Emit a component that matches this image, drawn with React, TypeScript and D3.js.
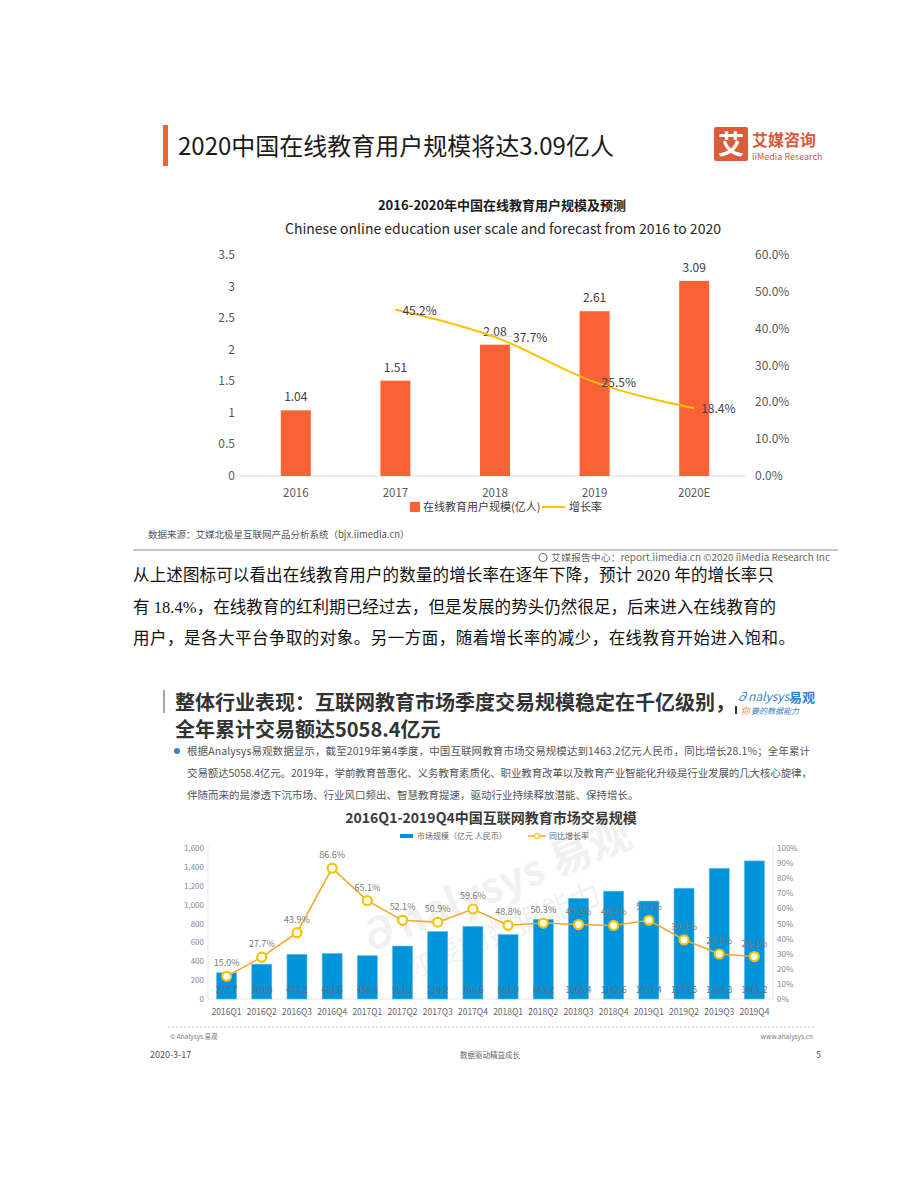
import React from 'react';
import * as d3 from 'd3';

// ---------- Chart 1 data ----------
const years = ['2016', '2017', '2018', '2019', '2020E'];
const users = [1.04, 1.51, 2.08, 2.61, 3.09];
const growth: (number | null)[] = [null, 45.2, 37.7, 25.5, 18.4];
const leftTicks1 = [0, 0.5, 1, 1.5, 2, 2.5, 3, 3.5];
const rightTicks1 = [0, 10, 20, 30, 40, 50, 60];

// ---------- Chart 2 data ----------
const quarters = ['2016Q1', '2016Q2', '2016Q3', '2016Q4', '2017Q1', '2017Q2', '2017Q3', '2017Q4',
  '2018Q1', '2018Q2', '2018Q3', '2018Q4', '2019Q1', '2019Q2', '2019Q3', '2019Q4'];
const market = [277.7, 369.0, 473.2, 481.6, 458.4, 561.1, 714.2, 768.6,
  681.9, 843.2, 1066.4, 1142.6, 1037.4, 1173.5, 1384.3, 1463.2];
const yoy = [15.0, 27.7, 43.9, 86.6, 65.1, 52.1, 50.9, 59.6,
  48.8, 50.3, 49.3, 48.7, 52.1, 39.2, 29.8, 28.1];
const leftTicks2 = [0, 200, 400, 600, 800, 1000, 1200, 1400, 1600];
const rightTicks2 = [0, 10, 20, 30, 40, 50, 60, 70, 80, 90, 100];

const paragraph = [
  '从上述图标可以看出在线教育用户的数量的增长率在逐年下降，预计 2020 年的增长率只',
  '有 18.4%，在线教育的红利期已经过去，但是发展的势头仍然很足，后来进入在线教育的',
  '用户，是各大平台争取的对象。另一方面，随着增长率的减少，在线教育开始进入饱和。',
];
const bullet = [
  '根据Analysys易观数据显示，截至2019年第4季度，中国互联网教育市场交易规模达到1463.2亿元人民币，同比增长28.1%；全年累计',
  '交易额达5058.4亿元。2019年，学前教育普惠化、义务教育素质化、职业教育改革以及教育产业智能化升级是行业发展的几大核心旋律，',
  '伴随而来的是渗透下沉市场、行业风口频出、智慧教育提速，驱动行业持续释放潜能、保持增长。',
];

const SANS = "'Noto Sans CJK SC', 'Noto Sans', sans-serif";
const SERIF = "'Liberation Serif', 'DejaVu Serif', 'Noto Sans CJK SC', serif";

export default function App() {
  // chart 1 scales
  const x1 = d3.scalePoint<string>().domain(years).range([246, 744]).padding(0.5);
  const y1 = d3.scaleLinear().domain([0, 3.5]).range([476, 255]);
  const y1r = d3.scaleLinear().domain([0, 60]).range([476, 255]);
  const barW1 = 30;
  const growthPts = years
    .map((yr, i) => ({ yr, v: growth[i] }))
    .filter((d) => d.v !== null) as { yr: string; v: number }[];
  const line1 = d3.line<{ yr: string; v: number }>()
    .x((d) => x1(d.yr)!)
    .y((d) => y1r(d.v))
    .curve(d3.curveMonotoneX);

  // chart 2 scales
  const x2 = d3.scalePoint<string>().domain(quarters).range([209, 772]).padding(0.5);
  const y2 = d3.scaleLinear().domain([0, 1600]).range([999, 848]);
  const y2r = d3.scaleLinear().domain([0, 100]).range([999, 848]);
  const barW2 = 20;
  const line2 = d3.line<number>()
    .x((_, i) => x2(quarters[i])!)
    .y((d) => y2r(d));
  const fmt = d3.format(',');

  return (
    <svg width={920} height={1191} style={{ position: 'absolute', left: 0, top: 0, background: '#fff' }}
      fontFamily={SANS}>
      <rect x={0} y={0} width={920} height={1191} fill="#fff" />

      {/* ===== Chart 1 header ===== */}
      <rect x={163} y={125} width={5} height={41} fill="#F0633A" />
      <text x={178} y={155} fontSize={24} fill="#1a1a1a">2020中国在线教育用户规模将达3.09亿人</text>
      <rect x={714} y={127} width={34} height={34} rx={2} fill="#DC5B3A" />
      <text x={731} y={154} fontSize={26} fontWeight={700} fill="#fff" textAnchor="middle">艾</text>
      <text x={752} y={146} fontSize={16} fontWeight={700} fill="#D9583A">艾媒咨询</text>
      <text x={752} y={160} fontSize={9} fill="#D9583A">iiMedia Research</text>

      <text x={502} y={210} fontSize={13} fontWeight={700} fill="#1a1a1a" textAnchor="middle">2016-2020年中国在线教育用户规模及预测</text>
      <text x={503} y={234} fontSize={14} fill="#262626" textAnchor="middle">Chinese online education user scale and forecast from 2016 to 2020</text>

      {/* axes chart 1 */}
      <line x1={240} x2={745} y1={y1(0)} y2={y1(0)} stroke="#d9d9d9" />
      {leftTicks1.map((t) => (
        <text key={'l' + t} x={235} y={y1(t) + 4} fontSize={12} fill="#595959" textAnchor="end">{t}</text>
      ))}
      {rightTicks1.map((t) => (
        <text key={'r' + t} x={755} y={y1r(t) + 4} fontSize={12} fill="#595959">{t.toFixed(1)}%</text>
      ))}
      {years.map((yr) => (
        <text key={'c' + yr} x={x1(yr)!} y={497} fontSize={11.5} fill="#595959" textAnchor="middle">{yr}</text>
      ))}

      {/* bars chart 1 */}
      {years.map((yr, i) => (
        <g key={'b' + yr}>
          <rect x={x1(yr)! - barW1 / 2} y={y1(users[i])} width={barW1} height={y1(0) - y1(users[i])} fill="#F96236" />
          <text x={x1(yr)!} y={y1(users[i]) - 9} fontSize={12} fill="#404040" textAnchor="middle">{users[i].toFixed(2)}</text>
        </g>
      ))}

      {/* leader line near 37.7% */}
      <line x1={x1('2018')! - 8} x2={x1('2018')! + 17} y1={y1r(37.7) - 1} y2={y1r(37.7) - 1} stroke="#d0d0d0" strokeWidth={1} />
      <path d={line1(growthPts) || ''} fill="none" stroke="#FFC000" strokeWidth={2} />
      {growthPts.map((d) => (
        <text key={'g' + d.yr} x={x1(d.yr)! + (d.yr === '2018' ? 18 : 7)} y={y1r(d.v) + 5} fontSize={12} fill="#404040">{d.v.toFixed(1)}%</text>
      ))}

      {/* legend chart 1 */}
      <rect x={410} y={502} width={10} height={10} fill="#F96236" />
      <text x={423} y={511} fontSize={11} fill="#404040">在线教育用户规模(亿人)</text>
      <line x1={542} x2={565} y1={507} y2={507} stroke="#FFC000" strokeWidth={2} />
      <text x={569} y={511} fontSize={11} fill="#404040">增长率</text>

      {/* source + footer */}
      <text x={148} y={538} fontSize={9.5} fill="#555">数据来源：艾媒北极星互联网产品分析系统（bjx.iimedia.cn）</text>
      <line x1={133} x2={838} y1={550} y2={550} stroke="#8c8c8c" strokeWidth={1.2} />
      <circle cx={543} cy={557.5} r={4} fill="none" stroke="#777" strokeWidth={1.2} />
      <text x={551} y={561} fontSize={9.5} fill="#666" textLength={279} lengthAdjust="spacingAndGlyphs">艾媒报告中心：report.iimedia.cn  ©2020 iiMedia Research  Inc</text>

      {/* paragraph */}
      {paragraph.map((ln, i) => (
        <text key={'p' + i} x={133} y={581 + i * 31.5} fontSize={16.5} fill="#111" fontFamily={SERIF}
          textLength={i === 0 ? 641 : i === 1 ? 643 : 662} lengthAdjust="spacing">{ln}</text>
      ))}

      {/* ===== Chart 2 header ===== */}
      <rect x={163} y={690} width={2} height={23} fill="#9aa7b5" />
      <text x={175} y={710} fontSize={20} fontWeight={700} fill="#333">整体行业表现：互联网教育市场季度交易规模稳定在千亿级别，</text>
      <text x={175} y={737} fontSize={20} fontWeight={700} fill="#333">全年累计交易额达5058.4亿元</text>
      <text x={736} y={701} fontSize={12} fontStyle="italic" fill="#2E86D1">∂nalysys</text>
      <text x={789} y={702} fontSize={13} fontWeight={700} fill="#2E86D1">易观</text>
      <rect x={735} y={706} width={2} height={8} fill="#333" />
      <text x={741} y={714} fontSize={9} fontStyle="italic" fill="#F08A24">你</text>
      <text x={751} y={714} fontSize={8} fontStyle="italic" fill="#3A7FC8">要的数据能力</text>

      <circle cx={177} cy={751} r={3} fill="#2E86D1" />
      {bullet.map((ln, i) => (
        <text key={'bl' + i} x={187} y={755 + i * 22} fontSize={10.5} fill="#555"
          {...(i < 2 ? { textLength: i === 0 ? 623 : 625, lengthAdjust: 'spacing' } : {})}>{ln}</text>
      ))}

      <text x={491} y={823} fontSize={14} fontWeight={700} fill="#3a3a3a" textAnchor="middle">2016Q1-2019Q4中国互联网教育市场交易规模</text>

      {/* legend chart 2 */}
      <rect x={400} y={834} width={13} height={4} fill="#0091DA" />
      <text x={417} y={839} fontSize={8} fill="#666">市场规模（亿元 人民币）</text>
      <line x1={528} x2={546} y1={836} y2={836} stroke="#F5A623" strokeWidth={1.5} />
      <circle cx={537} cy={836} r={2.5} fill="#fff" stroke="#F5C000" strokeWidth={1.2} />
      <text x={549} y={839} fontSize={8} fill="#666">同比增长率</text>

      {/* watermark */}
      <g transform="translate(500,900) rotate(-22)" opacity={0.05}>
        <text x={0} y={0} fontSize={42} fontWeight={700} fill="#000" textAnchor="middle">∂nalysys 易观</text>
        <text x={-10} y={40} fontSize={30} fill="#000" textAnchor="middle">你要的数据能力</text>
      </g>

      {/* axes chart 2 */}
      <line x1={208} x2={208} y1={846} y2={999} stroke="#e6e6e6" />
      <line x1={773} x2={773} y1={846} y2={999} stroke="#e6e6e6" />
      <line x1={208} x2={773} y1={999} y2={999} stroke="#e6e6e6" />
      {leftTicks2.map((t) => (
        <text key={'l2' + t} x={204} y={y2(t) + 3} fontSize={8} fill="#888" textAnchor="end">{fmt(t)}</text>
      ))}
      {rightTicks2.map((t) => (
        <text key={'r2' + t} x={777} y={y2r(t) + 3} fontSize={8} fill="#888">{t}%</text>
      ))}
      {quarters.map((q) => (
        <text key={'q' + q} x={x2(q)!} y={1015} fontSize={8.5} fill="#666" textAnchor="middle">{q}</text>
      ))}

      {/* bars chart 2 */}
      {quarters.map((q, i) => (
        <g key={'b2' + q}>
          <rect x={x2(q)! - barW2 / 2} y={y2(market[i])} width={barW2} height={y2(0) - y2(market[i])}
            fill="#0094DB" stroke="#5cb8ea" strokeWidth={0.6} />
          <text x={x2(q)!} y={993} fontSize={8.5} fill="#5f6f7c" textAnchor="middle">{market[i].toFixed(1)}</text>
        </g>
      ))}

      {/* line chart 2 */}
      <path d={line2(yoy) || ''} fill="none" stroke="#F7A62B" strokeWidth={1.6} />
      {yoy.map((v, i) => (
        <g key={'pt' + i}>
          <circle cx={x2(quarters[i])!} cy={y2r(v)} r={4.5} fill="#fff" stroke="#F5C400" strokeWidth={2.2} />
          <text x={x2(quarters[i])!} y={y2r(v) - 10} fontSize={9} fill="#7a7a7a" textAnchor="middle">{v.toFixed(1)}%</text>
        </g>
      ))}

      {/* footer chart 2 */}
      <line x1={168} x2={815} y1={1027} y2={1027} stroke="#c8c8c8" strokeDasharray="2,2" />
      <text x={170} y={1039} fontSize={6.5} fill="#777">© Analysys 易观</text>
      <text x={813} y={1039} fontSize={6.5} fill="#777" textAnchor="end">www.analysys.cn</text>
      <text x={150} y={1058} fontSize={9} fill="#555">2020-3-17</text>
      <text x={490} y={1058} fontSize={7.5} fill="#666" textAnchor="middle">数据驱动精益成长</text>
      <text x={816} y={1058} fontSize={9} fill="#555">5</text>
    </svg>
  );
}
